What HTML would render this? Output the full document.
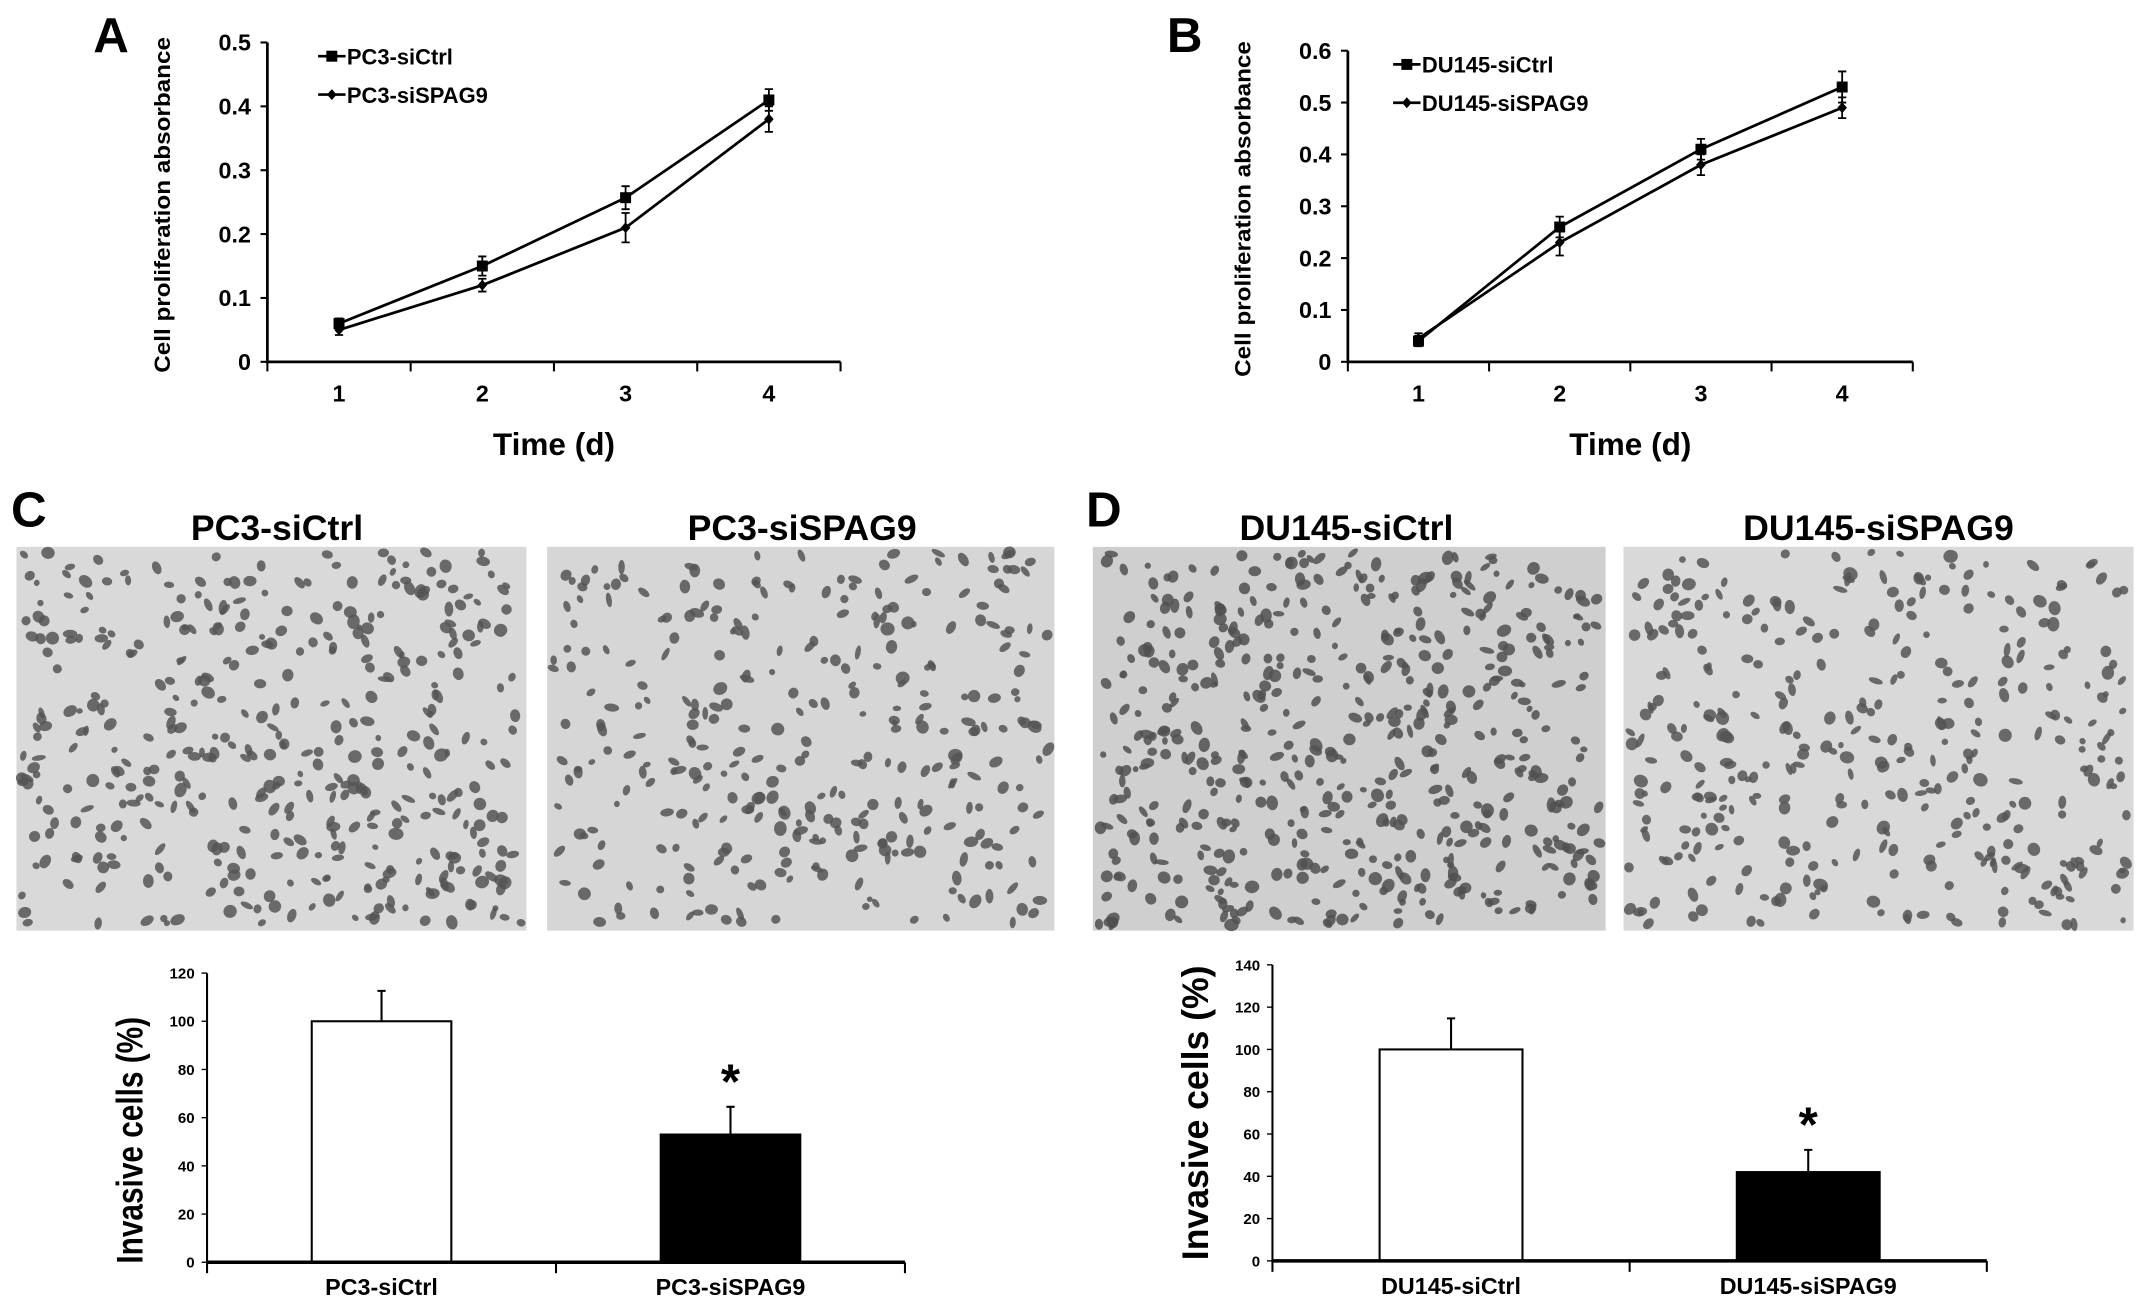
<!DOCTYPE html>
<html><head><meta charset="utf-8"><style>
html,body{margin:0;padding:0;background:#fff}
svg{display:block}
text{font-family:"Liberation Sans",sans-serif;font-weight:bold;fill:#000}
</style></head><body>
<svg id="fig" width="2150" height="1302" viewBox="0 0 1568 950" preserveAspectRatio="none" xmlns="http://www.w3.org/2000/svg">
<rect width="1568" height="950" fill="#fff"/>
<text x="68" y="38" font-size="36">A</text>
<text x="851" y="38" font-size="36">B</text>
<text x="8" y="384" font-size="36">C</text>
<text x="792" y="384" font-size="36">D</text>
<text x="202" y="394" font-size="26" text-anchor="middle">PC3-siCtrl</text>
<text x="585" y="394" font-size="26" text-anchor="middle">PC3-siSPAG9</text>
<text x="982" y="394" font-size="26" text-anchor="middle">DU145-siCtrl</text>
<text x="1370" y="394" font-size="26" text-anchor="middle">DU145-siSPAG9</text>
<g id="photos"></g>
<g id="charts"></g>
</svg>
<script>
// ---- Line chart A data ----
const daysA = [1, 2, 3, 4];
const pcCtrl = [0.06, 0.15, 0.257, 0.41];
const pcCtrlErr = [0.008, 0.015, 0.018, 0.017];
const pcSpag = [0.05, 0.12, 0.21, 0.38];
const pcSpagErr = [0.008, 0.01, 0.023, 0.02];
const ticksA = [0, 0.1, 0.2, 0.3, 0.4, 0.5];
// ---- Line chart B data ----
const daysB = [1, 2, 3, 4];
const duCtrl = [0.04, 0.26, 0.41, 0.53];
const duCtrlErr = [0.01, 0.02, 0.02, 0.03];
const duSpag = [0.045, 0.23, 0.38, 0.49];
const duSpagErr = [0.01, 0.025, 0.02, 0.02];
const ticksB = [0, 0.1, 0.2, 0.3, 0.4, 0.5, 0.6];
// ---- Bar chart C data ----
const groupsC = ["PC3-siCtrl", "PC3-siSPAG9"];
const invC = [100, 53];
const invCErr = [12.6, 11.5];
const ticksC = [0, 20, 40, 60, 80, 100, 120];
// ---- Bar chart D data ----
const groupsD = ["DU145-siCtrl", "DU145-siSPAG9"];
const invD = [100, 42];
const invDErr = [14.7, 10.5];
const ticksD = [0, 20, 40, 60, 80, 100, 120, 140];

const NS = "http://www.w3.org/2000/svg";
const charts = document.getElementById('charts');
function mk(tag, attrs, parent, txt) {
  const e = document.createElementNS(NS, tag);
  for (const k in attrs) e.setAttribute(k, attrs[k]);
  if (txt !== undefined) e.textContent = txt;
  (parent || charts).appendChild(e);
  return e;
}

function lineChart(o) {
  const g = mk('g', {});
  
  
  const ymax = o.ticks[o.ticks.length - 1];
  const y = v => o.y0 - (v / ymax) * (o.y0 - o.y1);
  const x = d => o.x0 + (d - 0.5) * o.cw;
  const yl = mk('line', {x1: o.x0, y1: o.y1, x2: o.x0, y2: o.y0 + 1, stroke: '#000', 'stroke-width': 2}, g);
  
  
  const xl = mk('line', {x1: o.x0, y1: o.y0, x2: o.x0 + 4 * o.cw, y2: o.y0, stroke: '#000', 'stroke-width': 2}, g);
  
  
  o.ticks.forEach(t => {
    mk('line', {x1: o.x0 - 5, y1: y(t), x2: o.x0, y2: y(t), stroke: '#000', 'stroke-width': 1.5}, g);
    const tl = mk('text', {x: o.x0 - 12, y: y(t) + 6, 'font-size': 17, 'text-anchor': 'end'}, g, String(t));
    
    
  });
  for (let i = 0; i <= 4; i++) mk('line', {x1: o.x0 + i * o.cw, y1: o.y0, x2: o.x0 + i * o.cw, y2: o.y0 + 7, stroke: '#000', 'stroke-width': 1.5}, g);
  o.days.forEach(d => {
    const tl = mk('text', {x: x(d), y: o.y0 + 29, 'font-size': 17, 'text-anchor': 'middle'}, g, String(d));
    
    
  });
  const xt = mk('text', {x: o.x0 + 2 * o.cw, y: o.y0 + 68, 'font-size': 23, 'text-anchor': 'middle'}, g, 'Time (d)');
  
  
  const yt = mk('text', {x: 0, y: 0, 'font-size': 16, 'text-anchor': 'middle', textLength: 245, lengthAdjust: 'spacingAndGlyphs', transform: `translate(${o.x0 - 71},${(o.y0 + o.y1) / 2 + 2}) rotate(-90)`}, g, 'Cell proliferation absorbance');
  
  
  o.series.forEach((s, si) => {
    const sg = mk('g', {}, g);
    
    
    const pts = o.days.map((d, i) => x(d) + ',' + y(s.v[i])).join(' ');
    const pl = mk('polyline', {points: pts, fill: 'none', stroke: '#000', 'stroke-width': 2}, sg);
    
    
    o.days.forEach((d, i) => {
      const cx = x(d), cy = y(s.v[i]), ht = y(s.v[i] + s.e[i]), hb = y(s.v[i] - s.e[i]);
      const eb = mk('path', {d: `M${cx},${ht}V${hb}M${cx - 3},${ht}H${cx + 3}M${cx - 3},${hb}H${cx + 3}`, stroke: '#000', 'stroke-width': 1.3, fill: 'none'}, sg);
      
      
      let m;
      if (si === 0) m = mk('rect', {x: cx - 4, y: cy - 4, width: 8, height: 8, fill: '#000'}, sg);
      else m = mk('path', {d: `M${cx},${cy - 4}L${cx + 3.5},${cy}L${cx},${cy + 4}L${cx - 3.5},${cy}Z`, fill: '#000'}, sg);
      
      
    });
    const ly = o.legY + si * 28, lx = o.legX;
    const lg = mk('g', {}, g);
    
    
    mk('line', {x1: lx, y1: ly, x2: lx + 20, y2: ly, stroke: '#000', 'stroke-width': 2}, lg);
    if (si === 0) mk('rect', {x: lx + 6, y: ly - 4, width: 8, height: 8, fill: '#000'}, lg);
    else mk('path', {d: `M${lx + 10},${ly - 4}L${lx + 13.5},${ly}L${lx + 10},${ly + 4}L${lx + 6.5},${ly}Z`, fill: '#000'}, lg);
    mk('text', {x: lx + 21, y: ly + 6, 'font-size': 16}, lg, s.label);
  });
}

lineChart({name: 'chart-a', x0: 195, y0: 264, y1: 31, cw: 104.5, ticks: ticksA, days: daysA, legX: 232, legY: 41,
  series: [{label: 'PC3-siCtrl', v: pcCtrl, e: pcCtrlErr}, {label: 'PC3-siSPAG9', v: pcSpag, e: pcSpagErr}]});
lineChart({name: 'chart-b', x0: 983, y0: 264, y1: 37, cw: 103, ticks: ticksB, days: daysB, legX: 1016, legY: 47,
  series: [{label: 'DU145-siCtrl', v: duCtrl, e: duCtrlErr}, {label: 'DU145-siSPAG9', v: duSpag, e: duSpagErr}]});

function barChart(o) {
  const g = mk('g', {});
  
  
  const ymax = o.ticks[o.ticks.length - 1];
  const y = v => o.y0 - (v / ymax) * (o.y0 - o.y1);
  const cw = (o.x1 - o.x0) / o.groups.length;
  const yl = mk('line', {x1: o.x0, y1: o.y1, x2: o.x0, y2: o.y0 + 1, stroke: '#000', 'stroke-width': 1.5}, g);
  
  
  o.ticks.forEach(t => {
    mk('line', {x1: o.x0 - 4, y1: y(t), x2: o.x0, y2: y(t), stroke: '#000', 'stroke-width': 1}, g);
    const tl = mk('text', {x: o.x0 - 9, y: y(t) + 4, 'font-size': 11, 'text-anchor': 'end'}, g, String(t));
    
    
  });
  const yt = mk('text', {x: 0, y: 0, 'font-size': 27, 'text-anchor': 'middle', textLength: o.tl, lengthAdjust: 'spacingAndGlyphs', transform: `translate(${o.x0 - 47},${o.tc}) rotate(-90)`}, g, 'Invasive  cells  (%)');
  
  
  o.groups.forEach((gname, i) => {
    const cx = o.x0 + (i + 0.5) * cw, bw = cw * 0.4;
    const b = mk('rect', {x: cx - bw / 2, y: y(o.v[i]), width: bw, height: o.y0 - y(o.v[i]), fill: i === 0 ? '#fff' : '#000', stroke: '#000', 'stroke-width': 1.5}, g);
    
    
    const et = y(o.v[i] + o.e[i]);
    const eb = mk('path', {d: `M${cx},${y(o.v[i])}V${et}M${cx - 3},${et}H${cx + 3}`, stroke: '#000', 'stroke-width': 1.5, fill: 'none'}, g);
    
    
    const xl = mk('text', {x: cx, y: o.y0 + 24, 'font-size': 17, 'text-anchor': 'middle'}, g, gname);
    
    
    if (i === 1) {
      const st = mk('text', {x: cx, y: et - 6, 'font-size': 36, 'text-anchor': 'middle'}, g, '*');
      
      
    }
  });
  const xl = mk('line', {x1: o.x0, y1: o.y0, x2: o.x1, y2: o.y0, stroke: '#000', 'stroke-width': 2.5}, g);
  
  
  for (let i = 0; i <= o.groups.length; i++) mk('line', {x1: o.x0 + i * cw, y1: o.y0, x2: o.x0 + i * cw, y2: o.y0 + 8, stroke: '#000', 'stroke-width': 1.5}, g);
}
barChart({name: 'chart-c', x0: 151, x1: 660, y0: 921, y1: 710, ticks: ticksC, groups: groupsC, v: invC, e: invCErr, tl: 180, tc: 832});
barChart({name: 'chart-d', x0: 928, x1: 1449, y0: 920, y1: 704, ticks: ticksD, groups: groupsD, v: invD, e: invDErr, tl: 215, tc: 812});

// ---- micrograph placeholders (texture only) ----
const photos = document.getElementById('photos');
const photoBoxes = [
  {n: 'photo-pc3-sictrl', x: 12, w: 372, bg: '#d9d9d9', k: 420, c: '#555'},
  {n: 'photo-pc3-sispag9', x: 399, w: 370, bg: '#d6d6d6', k: 330, c: '#555'},
  {n: 'photo-du145-sictrl', x: 797, w: 374, bg: '#cfcfcf', k: 520, c: '#505050'},
  {n: 'photo-du145-sispag9', x: 1184, w: 372, bg: '#d9d9d9', k: 360, c: '#555'}
];
let seed = 7;
function rnd() { seed = (seed * 16807) % 2147483647; return seed / 2147483647; }
photoBoxes.forEach(p => {
  const g = mk('g', {}, photos);
  
  
  mk('rect', {x: p.x, y: 399, width: p.w, height: 280, fill: p.bg}, g);
  let s = '';
  for (let i = 0; i < p.k; i++) {
    const cx = p.x + 4 + rnd() * (p.w - 8), cy = 403 + rnd() * 272;
    const rx = 2 + rnd() * 3.5, ry = 2 + rnd() * 2.8;
    s += `<ellipse cx="${cx.toFixed(1)}" cy="${cy.toFixed(1)}" rx="${rx.toFixed(1)}" ry="${ry.toFixed(1)}" transform="rotate(${(rnd()*180).toFixed(0)} ${cx.toFixed(1)} ${cy.toFixed(1)})"/>`;
  }
  const dg = mk('g', {fill: p.c, 'fill-opacity': 0.85}, g);
  dg.innerHTML = s;
});
</script>
</body></html>
